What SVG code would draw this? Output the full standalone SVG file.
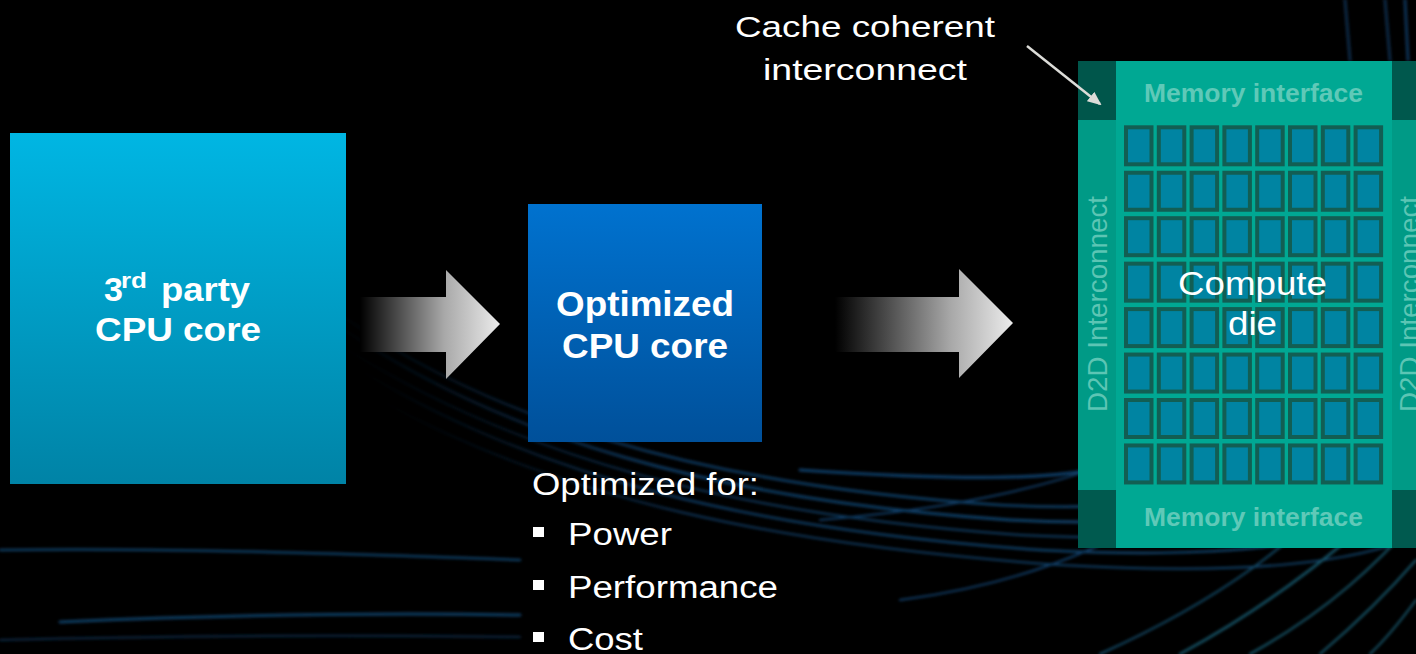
<svg xmlns="http://www.w3.org/2000/svg" width="1416" height="654" viewBox="0 0 1416 654">
<style>
.t{font-family:"Liberation Sans",Arial,sans-serif;fill:#ffffff}
.b{font-weight:bold}
.mem{font-family:"Liberation Sans",Arial,sans-serif;font-weight:bold;font-size:26px;fill:#5fc9b8}
.d2d{font-family:"Liberation Sans",Arial,sans-serif;font-size:28px;fill:#5cc5b4}
.streak{fill:none;stroke-linecap:round}
</style>
<defs>
<linearGradient id="gLeft" x1="0" y1="0" x2="0" y2="1">
<stop offset="0" stop-color="#00b6e3"/>
<stop offset="1" stop-color="#0083a6"/>
</linearGradient>
<linearGradient id="gMid" x1="0" y1="0" x2="0" y2="1">
<stop offset="0" stop-color="#0072cf"/>
<stop offset="1" stop-color="#00509a"/>
</linearGradient>
<linearGradient id="gA1" gradientUnits="userSpaceOnUse" x1="360" y1="0" x2="500" y2="0">
<stop offset="0" stop-color="#000000"/>
<stop offset="0.6" stop-color="#a8a8a8"/>
<stop offset="1" stop-color="#ececec"/>
</linearGradient>
<linearGradient id="gA2" gradientUnits="userSpaceOnUse" x1="835" y1="0" x2="1013" y2="0">
<stop offset="0" stop-color="#000000"/>
<stop offset="0.65" stop-color="#a8a8a8"/>
<stop offset="1" stop-color="#ececec"/>
</linearGradient>
<linearGradient id="gStreak" x1="0" y1="0" x2="1" y2="0">
<stop offset="0" stop-color="#12477a" stop-opacity="0"/>
<stop offset="0.3" stop-color="#175a96" stop-opacity="0.9"/>
<stop offset="1" stop-color="#1c6aa6" stop-opacity="1"/>
</linearGradient>
<filter id="blur" x="-10%" y="-10%" width="120%" height="120%">
<feGaussianBlur stdDeviation="1.6"/>
</filter>
<marker id="arrowHead" markerWidth="14" markerHeight="12" refX="12" refY="6" orient="auto" markerUnits="userSpaceOnUse">
<path d="M0,0 L14,6 L0,12 Z" fill="#dcdcd8"/>
</marker>
<g id="cell">
<rect width="29.5" height="41" fill="#125e53"/>
<rect x="4" y="4" width="21.5" height="33" fill="#0084a2"/>
</g>
<g id="row">
<use href="#cell" x="1124"/>
<use href="#cell" x="1156.8"/>
<use href="#cell" x="1189.6"/>
<use href="#cell" x="1222.4"/>
<use href="#cell" x="1255.2"/>
<use href="#cell" x="1288"/>
<use href="#cell" x="1320.8"/>
<use href="#cell" x="1353.6"/>
</g>
</defs>

<rect width="1416" height="654" fill="#000000"/>

<g id="background" filter="url(#blur)" opacity="0.7">
<path class="streak" d="M320,300 C480,420 700,485 1000,505 C1200,515 1330,480 1430,420" stroke="url(#gStreak)" stroke-width="2.5"/>
<path class="streak" d="M330,320 C500,440 720,500 1010,520 C1210,530 1340,500 1430,445" stroke="url(#gStreak)" stroke-width="3"/>
<path class="streak" d="M340,345 C520,460 740,515 1020,535 C1220,545 1340,525 1430,470" stroke="url(#gStreak)" stroke-width="2"/>
<path class="streak" d="M360,370 C540,480 760,530 1040,550 C1230,560 1350,545 1430,500" stroke="url(#gStreak)" stroke-width="2.5"/>
<path class="streak" d="M380,400 C560,500 780,545 1060,565 C1240,575 1360,565 1430,530" stroke="url(#gStreak)" stroke-width="2"/>
<path class="streak" d="M800,470 C950,480 1040,480 1090,470" stroke="#185a96" stroke-width="3"/>
<path class="streak" d="M820,520 C1000,505 1120,470 1200,420" stroke="#185a96" stroke-width="2"/>
<path class="streak" d="M900,600 C1050,580 1150,530 1230,460" stroke="#185a96" stroke-width="2"/>
<path class="streak" d="M1100,654 C1220,600 1300,540 1360,470" stroke="#1f6f9a" stroke-width="2"/>
<path class="streak" d="M1180,654 C1280,600 1350,540 1416,480" stroke="#237f9c" stroke-width="2.5"/>
<path class="streak" d="M1250,654 C1330,610 1380,560 1416,520" stroke="#237f9c" stroke-width="2"/>
<path class="streak" d="M1320,654 C1360,620 1390,590 1416,560" stroke="#237f9c" stroke-width="2"/>
<path class="streak" d="M1370,654 C1390,635 1405,615 1416,600" stroke="#237f9c" stroke-width="2"/>
<path class="streak" d="M0,550 C150,548 300,552 520,560" stroke="#185a8f" stroke-width="2.5"/>
<path class="streak" d="M60,622 C200,616 350,612 520,615" stroke="#185a8f" stroke-width="3"/>
<path class="streak" d="M0,640 C150,636 300,634 520,637" stroke="#123d66" stroke-width="2"/>
<path class="streak" d="M1345,0 L1350,60" stroke="#133c66" stroke-width="3"/>
<path class="streak" d="M1385,0 L1390,60" stroke="#133c66" stroke-width="3"/>
<path class="streak" d="M1405,0 L1408,60" stroke="#174a7d" stroke-width="3"/>
</g>

<g id="node-3rd-party">
<rect x="10" y="133" width="336" height="351" fill="url(#gLeft)"/>
<text class="t b" y="301"><tspan x="104" font-size="34">3</tspan><tspan x="121" y="288" font-size="22" textLength="26" lengthAdjust="spacingAndGlyphs">rd</tspan><tspan x="161" y="301" font-size="34" textLength="89" lengthAdjust="spacingAndGlyphs">party</tspan></text>
<text class="t b" x="95" y="341" font-size="34" textLength="166" lengthAdjust="spacingAndGlyphs">CPU core</text>
</g>

<g id="node-optimized">
<rect x="528" y="204" width="234" height="238" fill="url(#gMid)"/>
<text class="t b" x="556" y="316" font-size="35" textLength="178" lengthAdjust="spacingAndGlyphs">Optimized</text>
<text class="t b" x="562" y="358" font-size="35" textLength="166" lengthAdjust="spacingAndGlyphs">CPU core</text>
</g>

<g id="node-optimized-list">
<text class="t" x="532" y="495" font-size="31" textLength="227" lengthAdjust="spacingAndGlyphs">Optimized for:</text>
<rect x="533" y="527" width="11" height="10" fill="#ffffff"/>
<text class="t" x="568" y="545" font-size="31" textLength="104" lengthAdjust="spacingAndGlyphs">Power</text>
<rect x="533" y="580" width="11" height="10" fill="#ffffff"/>
<text class="t" x="568" y="598" font-size="31" textLength="210" lengthAdjust="spacingAndGlyphs">Performance</text>
<rect x="533" y="632" width="11" height="10" fill="#ffffff"/>
<text class="t" x="568" y="650" font-size="31" textLength="75" lengthAdjust="spacingAndGlyphs">Cost</text>
</g>

<g id="node-compute-die">
<rect x="1078" y="61" width="338" height="487" fill="#00a893"/>
<rect x="1078" y="61" width="38" height="59" fill="#00564b"/>
<rect x="1392" y="61" width="24" height="59" fill="#00584d"/>
<rect x="1078" y="120" width="38" height="370" fill="#009a86"/>
<rect x="1392" y="120" width="24" height="370" fill="#009a86"/>
<rect x="1078" y="490" width="38" height="58" fill="#005a4f"/>
<rect x="1392" y="490" width="24" height="58" fill="#005a4f"/>
<use href="#row" y="125.3"/>
<use href="#row" y="170.75"/>
<use href="#row" y="216.2"/>
<use href="#row" y="261.65"/>
<use href="#row" y="307.1"/>
<use href="#row" y="352.55"/>
<use href="#row" y="398"/>
<use href="#row" y="443.45"/>
<text class="mem" x="1144" y="102" textLength="219" lengthAdjust="spacingAndGlyphs">Memory interface</text>
<text class="mem" x="1144" y="526" textLength="219" lengthAdjust="spacingAndGlyphs">Memory interface</text>
<text class="d2d" transform="translate(1107,412) rotate(-90)" textLength="216" lengthAdjust="spacingAndGlyphs">D2D Interconnect</text>
<text class="d2d" transform="translate(1419,412) rotate(-90)" textLength="216" lengthAdjust="spacingAndGlyphs">D2D Interconnect</text>
<text class="t" x="1178" y="295" font-size="34" textLength="149" lengthAdjust="spacingAndGlyphs">Compute</text>
<text class="t" x="1228" y="335" font-size="34" textLength="49" lengthAdjust="spacingAndGlyphs">die</text>
</g>

<g id="label-cache">
<text class="t" x="735" y="37" font-size="30" textLength="260" lengthAdjust="spacingAndGlyphs">Cache coherent</text>
<text class="t" x="763" y="80" font-size="30" textLength="204" lengthAdjust="spacingAndGlyphs">interconnect</text>
</g>

<g id="connectors">
<polygon points="360,297 446,297 446,270 500,324 446,379 446,352 360,352" fill="url(#gA1)"/>
<polygon points="835,297 959,297 959,269 1013,323 959,378 959,352 835,352" fill="url(#gA2)"/>
<line x1="1027" y1="46" x2="1100" y2="104" stroke="#dcdcd8" stroke-width="2.5" marker-end="url(#arrowHead)"/>
</g>
</svg>
